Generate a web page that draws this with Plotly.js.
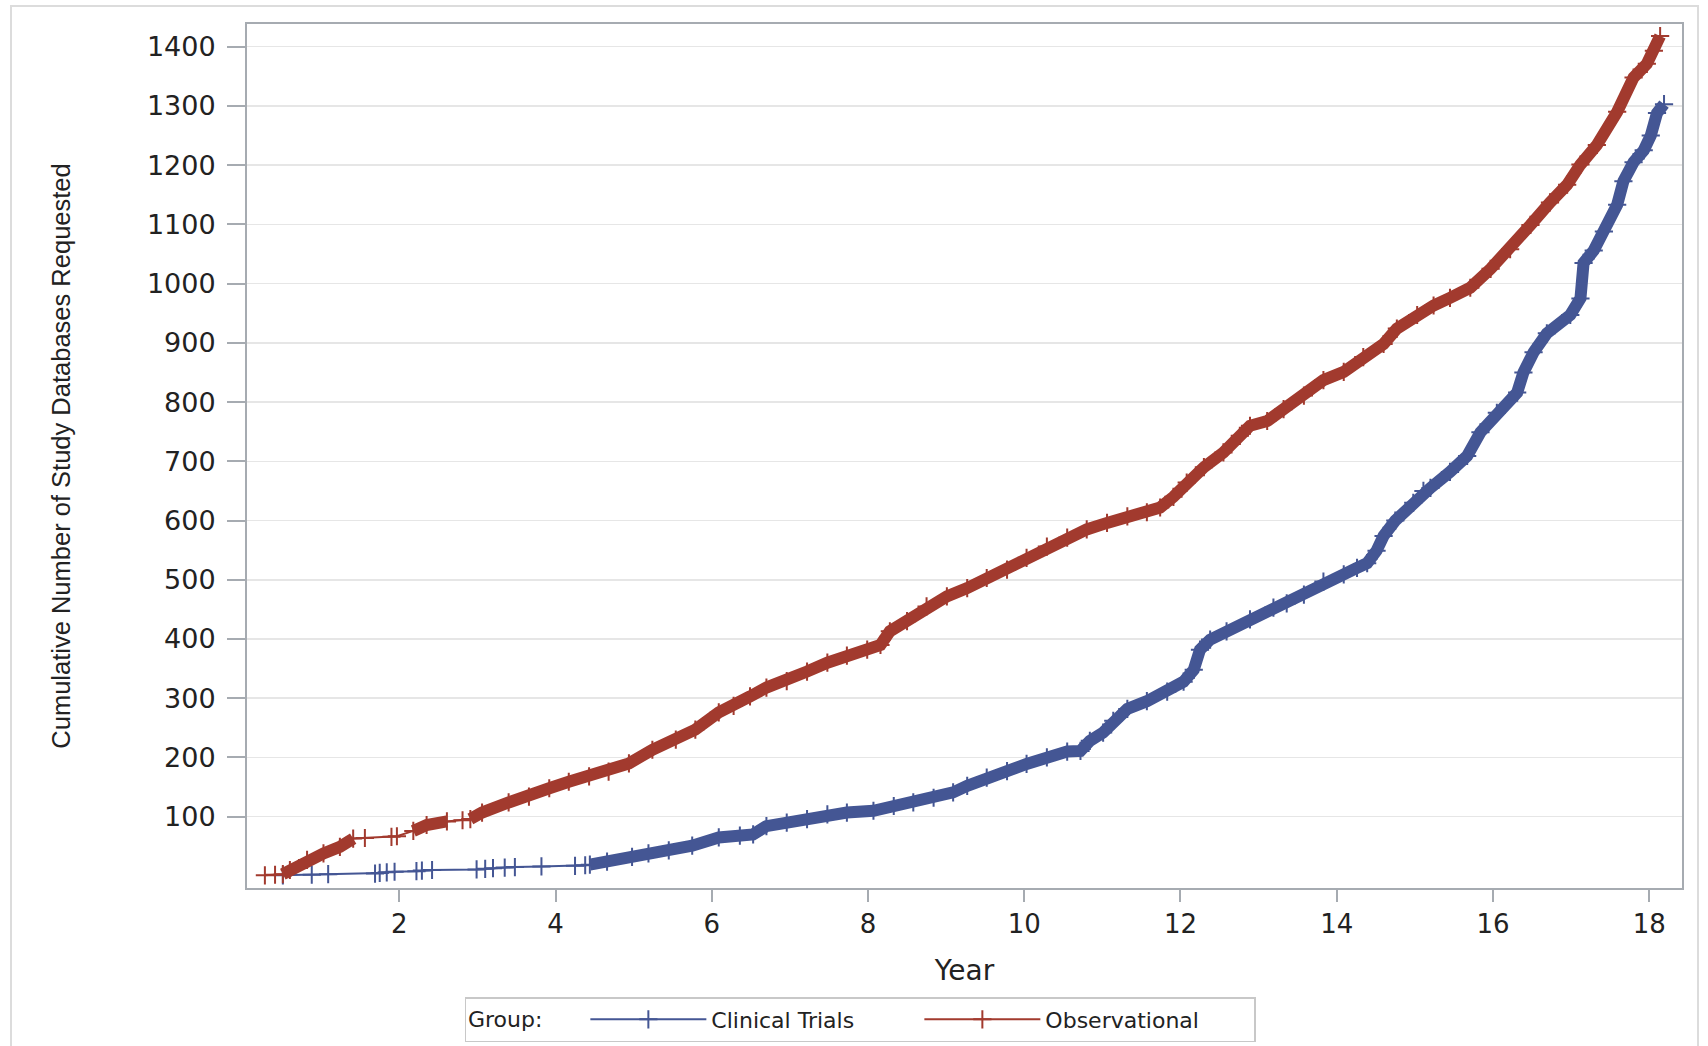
<!DOCTYPE html>
<html>
<head>
<meta charset="utf-8">
<script src="https://cdn.plot.ly/plotly-3.0.1.min.js"></script>
<style>
  html, body { margin: 0; padding: 0; background: #ffffff; }
  #chart { width: 1708px; height: 1046px; }
</style>
</head>
<body>
<div id="chart"></div>
<script>
// ---- Data ----
const groupNames = ['Clinical Trials', 'Observational'];
const xTickVals = [2, 4, 6, 8, 10, 12, 14, 16, 18];
const yTickVals = [100, 200, 300, 400, 500, 600, 700, 800, 900, 1000, 1100, 1200, 1300, 1400];

const ctYear = [0.51, 0.88, 1.09, 1.69, 1.75, 1.84, 1.94, 2.22, 2.29, 2.42, 2.99, 3.10, 3.20, 3.35, 3.48, 3.82, 4.25, 4.38, 4.44,
  4.66, 4.98, 5.19, 5.45, 5.75, 6.09, 6.36, 6.53, 6.70, 6.96, 7.22, 7.48, 7.73, 8.07, 8.33, 8.58, 8.84, 9.09, 9.27, 9.52, 9.78,
  10.03, 10.29, 10.55, 10.72, 10.84, 11.01, 11.14, 11.32, 11.57, 11.83, 12.04, 12.17, 12.25, 12.38, 12.59, 12.89, 13.19, 13.36,
  13.58, 13.83, 14.09, 14.26, 14.39, 14.51, 14.60, 14.75, 14.98, 15.11, 15.20, 15.45, 15.67, 15.84, 16.05, 16.31, 16.39, 16.52,
  16.69, 16.99, 17.12, 17.16, 17.29, 17.42, 17.59, 17.67, 17.80, 17.93, 18.02, 18.10, 18.19];
const ctCount = [1, 2, 3, 4, 5, 6, 7, 8, 9, 10, 11, 12, 13, 14, 15, 16, 17, 18, 19,
  24, 32, 38, 43, 51, 65, 68, 70, 84, 90, 96, 104, 107, 110, 118, 124, 132, 141, 152, 166, 177,
  189, 200, 210, 211, 228, 242, 262, 282, 295, 311, 328, 348, 382, 399, 413, 433, 453, 460,
  475, 497, 509, 520, 528, 549, 574, 600, 630, 650, 655, 682, 709, 749, 782, 816, 850, 884,
  916, 947, 975, 1035, 1056, 1088, 1133, 1173, 1205, 1225, 1250, 1288, 1303];

const obsYear = [0.28, 0.41, 0.51, 0.60, 0.82, 1.03, 1.24, 1.41, 1.56, 1.90, 1.97, 2.18, 2.35, 2.61, 2.81, 2.91, 3.06, 3.40,
  3.66, 3.92, 4.17, 4.43, 4.68, 4.94, 5.24, 5.54, 5.79, 6.09, 6.28, 6.49, 6.70, 6.96, 7.22, 7.48, 7.73, 7.99, 8.16, 8.28,
  8.50, 8.75, 9.01, 9.27, 9.52, 9.78, 10.03, 10.29, 10.55, 10.80, 11.06, 11.32, 11.57, 11.74, 11.91, 12.08, 12.30, 12.55,
  12.76, 12.89, 13.11, 13.32, 13.58, 13.83, 14.09, 14.34, 14.60, 14.77, 15.03, 15.24, 15.45, 15.71, 15.97, 16.22, 16.48,
  16.73, 16.95, 17.12, 17.33, 17.59, 17.80, 17.97, 18.06, 18.14];
const obsCount = [1, 2, 3, 10, 27, 38, 49, 63, 64, 66, 67, 76, 86, 92, 94, 96, 107, 124,
  134, 148, 159, 168, 176, 190, 213, 230, 247, 276, 287, 303, 318, 329, 345, 360, 372, 382, 390, 413,
  430, 455, 472, 486, 503, 517, 537, 556, 571, 585, 596, 607, 614, 622, 640, 664, 690, 715,
  743, 760, 768, 788, 811, 837, 851, 876, 898, 924, 947, 963, 976, 993, 1025, 1058, 1099,
  1137, 1167, 1201, 1234, 1290, 1348, 1371, 1393, 1418];

// year ranges where the events are so dense that the + marks merge into a band
const ctDense = [[4.4, 18.3]];
const obsDense = [[0.5, 1.45], [2.1, 2.65], [2.85, 18.3]];

// ---- Styling ----
const ctColor = '#445694';
const obsColor = '#A23A2E';
const frameColor = '#a6abb1';
const textColor = '#222222';
const hFont = 'DejaVu Sans, Verdana, sans-serif';

function band(xs, ys, ranges) {
  return ys.map((v, i) => ranges.some(r => xs[i] >= r[0] && xs[i] <= r[1]) ? v : null);
}

const traces = [
  { x: ctYear, y: ctCount, name: groupNames[0], type: 'scatter', mode: 'lines+markers',
    line: { color: ctColor, width: 2 },
    marker: { symbol: 'cross-thin', size: 13, color: ctColor, line: { color: ctColor, width: 2 } } },
  { x: obsYear, y: obsCount, name: groupNames[1], type: 'scatter', mode: 'lines+markers',
    line: { color: obsColor, width: 2 },
    marker: { symbol: 'cross-thin', size: 13, color: obsColor, line: { color: obsColor, width: 2 } } },
  { x: ctYear, y: band(ctYear, ctCount, ctDense), type: 'scatter', mode: 'lines',
    line: { color: ctColor, width: 12 }, showlegend: false, hoverinfo: 'skip', connectgaps: false },
  { x: obsYear, y: band(obsYear, obsCount, obsDense), type: 'scatter', mode: 'lines',
    line: { color: obsColor, width: 12 }, showlegend: false, hoverinfo: 'skip', connectgaps: false }
];

const L = 247, R = 26, T = 24, B = 158, W = 1708, H = 1046;
const pw = W - L - R, ph = H - T - B;
function px2x(p) { return (p - L) / pw; }
function py2y(p) { return (H - B - p) / ph; }

const layout = {
  width: W, height: H,
  margin: { l: L, r: R, t: T, b: B, pad: 0, autoexpand: false },
  paper_bgcolor: '#ffffff', plot_bgcolor: '#ffffff',
  font: { family: hFont, color: textColor },
  showlegend: true,
  xaxis: {
    range: [0.051, 18.42], tickvals: xTickVals, ticktext: xTickVals.map(String),
    ticks: 'outside', ticklen: 12, tickwidth: 2, tickcolor: frameColor,
    showline: true, mirror: true, linecolor: frameColor, linewidth: 2,
    showgrid: false, zeroline: false, automargin: false,
    ticklabelstandoff: 0,
    tickfont: { family: hFont, size: 26, color: textColor },
    title: { text: 'Year', font: { family: hFont, size: 28, color: textColor }, standoff: 22 }
  },
  yaxis: {
    range: [-20.4, 1438.3], tickvals: yTickVals, ticktext: yTickVals.map(String),
    ticks: 'outside', ticklen: 18, tickwidth: 2, tickcolor: frameColor,
    showline: true, mirror: true, linecolor: frameColor, linewidth: 2,
    showgrid: true, gridcolor: '#e6e6e6', gridwidth: 1.5, zeroline: false, automargin: false,
    ticklabelstandoff: 6,
    tickfont: { family: hFont, size: 27, color: textColor },
    title: { text: 'Cumulative Number of Study Databases Requested',
      font: { family: 'Liberation Sans, Arial, sans-serif', size: 25.5, color: textColor }, standoff: 69 }
  },
  legend: {
    orientation: 'h', x: px2x(860), xanchor: 'center', y: py2y(997), yanchor: 'top',
    bordercolor: '#c8c8c8', borderwidth: 1.5, bgcolor: '#ffffff',
    font: { family: hFont, size: 22, color: textColor },
    title: { text: 'Group:     ', side: 'left', font: { family: hFont, size: 22, color: textColor } },
    itemwidth: 116, entrywidth: 203, tracegroupgap: 0
  },
  shapes: [
    { type: 'rect', xref: 'paper', yref: 'paper', x0: px2x(11), x1: px2x(1698), y0: py2y(1060), y1: py2y(6),
      line: { color: '#dcdcdc', width: 2 }, fillcolor: 'rgba(0,0,0,0)', layer: 'below' }
  ]
};

Plotly.newPlot('chart', traces, layout, { displayModeBar: false, staticPlot: true });
</script>
</body>
</html>
